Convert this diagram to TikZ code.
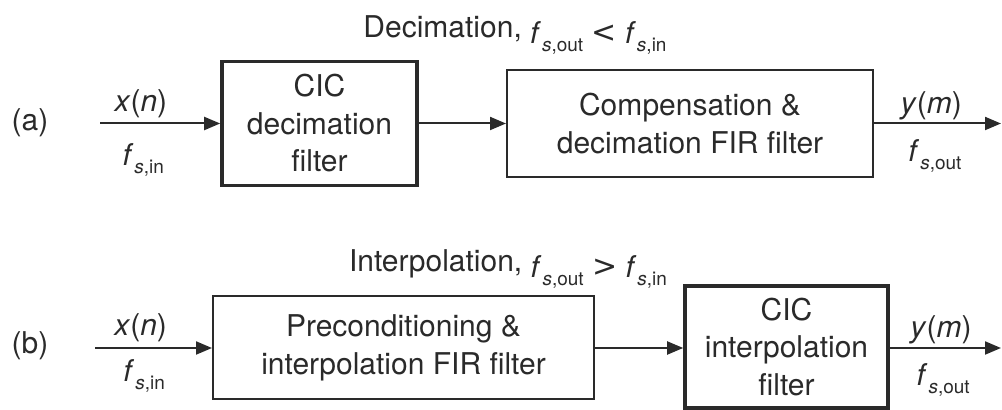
\documentclass[tikz,border=0pt]{standalone}
\usepackage{fontspec}
\setmainfont{TeX Gyre Heros}
\newfontfamily\relfont{DejaVu Sans}
\usepackage{xcolor}
\definecolor{ink}{HTML}{2a2a2a}
\usepackage{tikz}
\usetikzlibrary{arrows.meta,positioning}

\newcommand{\fsub}[1]{\raisebox{-3pt}{\textit{f}}\kern0.5pt\raisebox{-7pt}{\fontsize{9.5}{9.5}\selectfont\textit{s},#1}}
\newcommand{\rel}[1]{\raisebox{-2.5pt}{\relfont\fontsize{15}{15}\selectfont#1}}

\begin{document}
\begin{tikzpicture}[
  x=0.5pt, y=-0.5pt, >={Triangle[length=8pt,width=6.5pt]},
  every node/.style={text=ink, font=\fontsize{15}{18.75}\selectfont},
  blk/.style={rectangle, draw=ink, line width=1pt, align=center, inner sep=0pt},
  cicblk/.style={blk, line width=1.8pt},
  sig/.style={->, draw=ink, line width=1pt},
  toplbl/.style={anchor=base, yshift=6pt},
  botlbl/.style={anchor=base, yshift=-16pt},
]
  \useasboundingbox (0,0) rectangle (1002,410);

  % (a) decimation
  \node[anchor=base] (tita) at (515,38) {Decimation, \fsub{out} \rel{<} \fsub{in}};
  \node (laba) at (30,123) {(a)};
  \coordinate (ain) at (100,123.5);
  \node[cicblk, minimum width=97.5pt, minimum height=62pt] (cicd) at (319.5,123.5) {CIC\\decimation\\filter};
  \node[blk, minimum width=183pt, minimum height=53.5pt] (comp) at (690,123.5) {Compensation \&\\decimation FIR filter};
  \coordinate (aout) at (1001,123.5);

  \draw[sig] (ain) -- node[pos=.34, toplbl]{\textit{x}(\textit{n})} node[pos=.36, botlbl, yshift=-2pt]{\fsub{in}} (cicd);
  \draw[sig] (cicd) -- (comp);
  \draw[sig] (comp) -- node[pos=.45, toplbl, yshift=-1pt]{\textit{y}(\textit{m})} node[pos=.48, botlbl]{\fsub{out}} (aout);

  % (b) interpolation
  \node[anchor=base] (titb) at (508,272) {Interpolation, \fsub{out} \rel{>} \fsub{in}};
  \node (labb) at (30,346) {(b)};
  \coordinate (bin) at (95,348);
  \node[blk, minimum width=190.5pt, minimum height=51.5pt] (prec) at (403.5,348) {Preconditioning \&\\interpolation FIR filter};
  \node[cicblk, minimum width=101.5pt, minimum height=61pt] (cici) at (786.5,347) {CIC\\interpolation\\filter};
  \coordinate (bout) at (1001,348);

  \draw[sig] (bin) -- node[pos=.39, toplbl]{\textit{x}(\textit{n})} node[pos=.42, botlbl, yshift=2pt]{\fsub{in}} (prec);
  \draw[sig] (prec) -- (prec -| cici.west);
  \draw[sig] (cici.east |- bout) -- node[pos=.46, toplbl, yshift=-1pt]{\textit{y}(\textit{m})} node[pos=.48, botlbl]{\fsub{out}} (bout);
\end{tikzpicture}
\end{document}
